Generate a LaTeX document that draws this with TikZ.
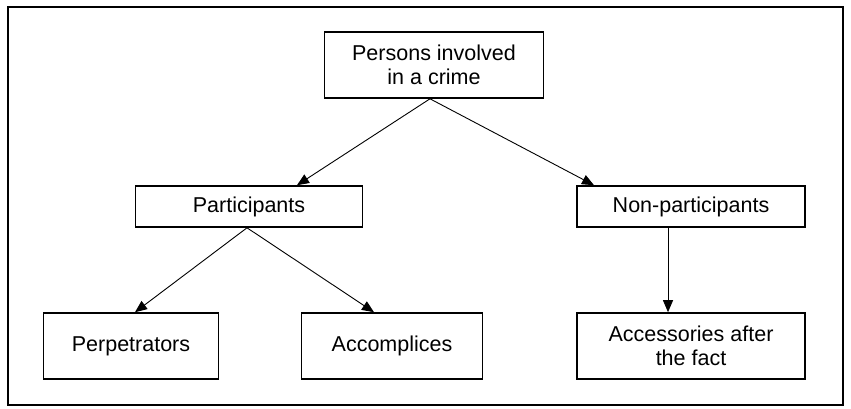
\documentclass[tikz,border=0pt]{standalone}
\usepackage{fontspec}
\setmainfont{Liberation Sans}
\usetikzlibrary{arrows.meta}
\tikzset{
  crimebox/.style={draw,line width=1.6pt,align=center,inner sep=0pt,font=\fontsize{21.5}{24}\selectfont},
  tallbox/.style={crimebox,minimum height=66pt},
  flatbox/.style={crimebox,minimum height=41pt},
  crimearrow/.style={line width=0.9pt,-{Triangle[length=12pt,width=10pt]}}
}
\begin{document}
\begin{tikzpicture}[x=1pt,y=-1pt]
    \useasboundingbox (0,0) rectangle (851,408);
    \draw[line width=1.5pt] (8,7) rectangle (843,405);
    % top level
    \node[tallbox,minimum width=219pt] (persons) at (434,65) {Persons involved\\in a crime};
    % second level
    \node[flatbox,minimum width=227pt] (part) at (249,206.5) {Participants};
    \node[flatbox,minimum width=228pt] (nonpart) at (691,206.5) {Non-participants};
    % third level
    \node[tallbox,minimum width=175pt] (perp) at (131,346) {Perpetrators};
    \node[tallbox,minimum width=181pt] (accomp) at (392,346) {Accomplices};
    \node[tallbox,minimum width=228pt] (access) at (691,346) {Accessories after\\the fact};
    % arrows
    \draw[crimearrow] ([xshift=-4]persons.south) -- ([xshift=48]part.north);
    \draw[crimearrow] ([xshift=-4]persons.south) -- ([xshift=-97]nonpart.north);
    \draw[crimearrow] ([xshift=-2]part.south) -- ([xshift=4]perp.north);
    \draw[crimearrow] ([xshift=-2]part.south) -- ([xshift=-18]accomp.north);
    \draw[crimearrow] ([xshift=-23]nonpart.south) -- ([xshift=-23]access.north);
\end{tikzpicture}
\end{document}
